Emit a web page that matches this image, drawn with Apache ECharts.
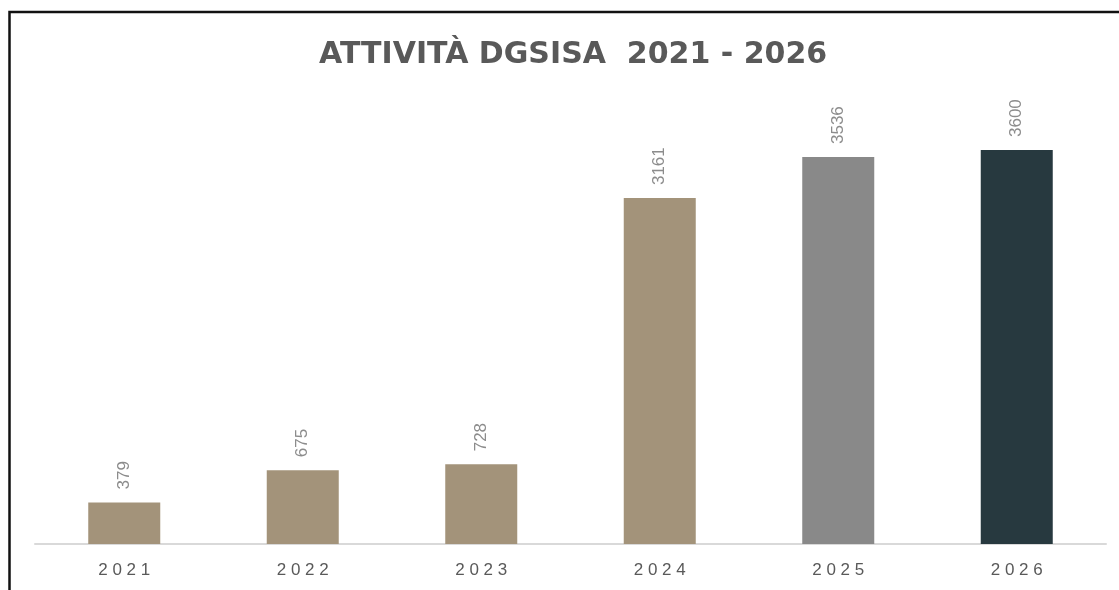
<!DOCTYPE html>
<html>
<head>
<meta charset="utf-8">
<script src="https://cdn.jsdelivr.net/npm/echarts@6/dist/echarts.min.js"></script>
<style>
  html, body { margin: 0; padding: 0; background: #fff; }
  #chart { width: 1119px; height: 590px; }
</style>
</head>
<body>
<div id="chart"></div>
<script>
// data
var years = ["2021", "2022", "2023", "2024", "2025", "2026"];
var attivita = [379, 675, 728, 3161, 3536, 3600];

// colori per barra
var barColors = ["#A3937A", "#A3937A", "#A3937A", "#A3937A", "#898989", "#27393F"];

var myChart = echarts.init(document.getElementById("chart"));

var seriesData = attivita.map(function (v, i) {
  return { value: v, itemStyle: { color: barColors[i] } };
});

var option = {
  animation: false,
  title: {
    text: "ATTIVITÀ DGSISA  2021 - 2026",
    left: 314,
    top: 35,
    textStyle: {
      fontFamily: "DejaVu Sans",
      fontWeight: "bold",
      fontSize: 30,
      color: "#595959",
    },
  },
  graphic: [
    {
      type: "rect",
      shape: { x: 9.5, y: 12, width: 1300, height: 800 },
      style: { fill: null, stroke: "#111", lineWidth: 2.5 },
      z: 100,
    },
  ],
  grid: {
    left: 35,
    right: 13,
    top: 150,
    bottom: 46,
    containLabel: false,
  },
  xAxis: {
    type: "category",
    data: years,
    axisTick: { show: false },
    axisLine: {
      show: true,
      lineStyle: { color: "#d9d9d9", width: 2 },
    },
    axisLabel: {
      margin: 18,
      fontSize: 17,
      fontFamily: "Liberation Sans",
      color: "#595959",
      formatter: function (v) {
        return v.split("").join(" ");
      },
    },
  },
  yAxis: {
    type: "value",
    min: 0,
    max: 3600,
    show: false,
    splitLine: { show: false },
  },
  series: [
    {
      name: "attività",
      type: "bar",
      barWidth: 72,
      data: seriesData,
      label: {
        show: true,
        position: "top",
        rotate: 90,
        align: "left",
        verticalAlign: "middle",
        distance: 13,
        fontSize: 17,
        fontFamily: "Liberation Sans",
        color: "#8c8c8c",
      },
    },
  ],
};
myChart.setOption(option);
</script>
</body>
</html>
